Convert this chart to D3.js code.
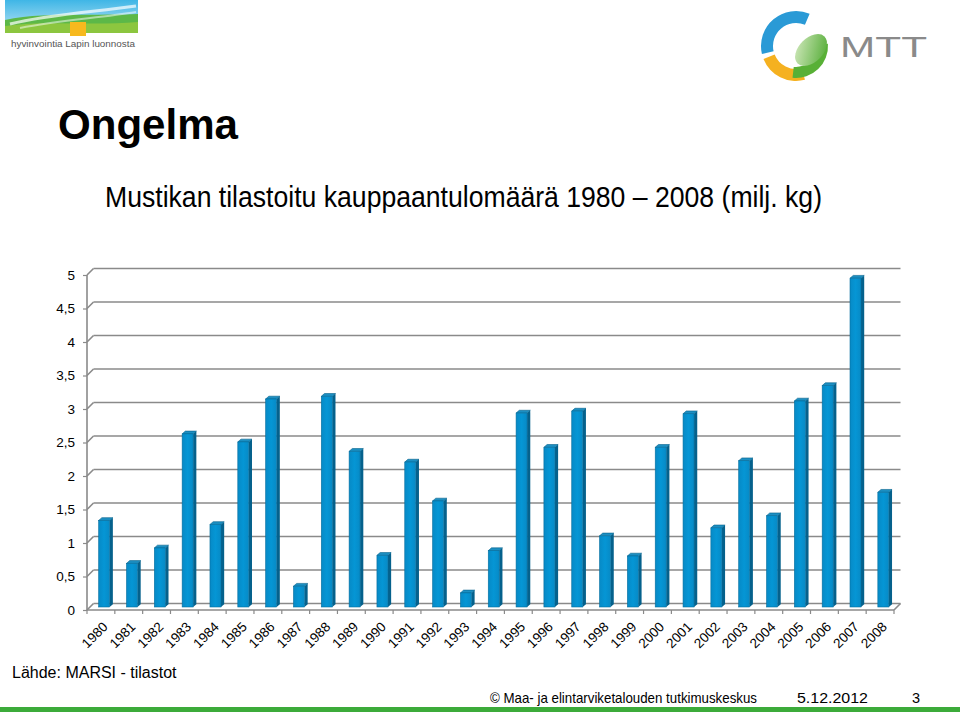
<!DOCTYPE html>
<html><head><meta charset="utf-8">
<script src="https://cdn.jsdelivr.net/npm/d3@7"></script>
<style>body{margin:0;background:#fff}svg{display:block;font-family:Arial,"Liberation Sans",sans-serif}</style>
</head><body>
<svg id="c" width="960" height="712"></svg>
<script>
const years = ["1980","1981","1982","1983","1984","1985","1986","1987","1988","1989","1990","1991","1992","1993","1994","1995","1996","1997","1998","1999","2000","2001","2002","2003","2004","2005","2006","2007","2008"];
const values = [1.29,0.65,0.88,2.58,1.23,2.46,3.10,0.31,3.14,2.32,0.77,2.16,1.58,0.21,0.84,2.89,2.38,2.92,1.06,0.76,2.38,2.88,1.18,2.18,1.36,3.07,3.30,4.90,1.71];
const yTicks = [0,0.5,1,1.5,2,2.5,3,3.5,4,4.5,5];
const title = "Ongelma";
const subtitle = "Mustikan tilastoitu kauppaantulomäärä 1980 – 2008 (milj. kg)";
const source = "Lähde: MARSI - tilastot";
const footer = "© Maa- ja elintarviketalouden tutkimuskeskus";
const footDate = "5.12.2012";
const pageNo = "3";

const svg = d3.select("#c");
const defs = svg.append("defs");

const DX = 6.5, DY = -6.5;
const x0 = 87, x1 = 894;
const yF = d3.scaleLinear().domain([0,5]).range([610,275]);
const yB = v => yF(v) + DY;
const yM = d3.scaleLinear().domain([0,5]).range([607,271.5]);
const xF = d3.scaleBand().domain(years).range([x0, x1]);
const xM = d => xF(d) + xF.bandwidth()/2 + DX/2;

// ---------- logos ----------
const g1 = defs.append("linearGradient").attr("id","sky").attr("x1",0).attr("y1",0).attr("x2",0).attr("y2",1);
g1.append("stop").attr("offset",0).attr("stop-color","#3fb6e6");
g1.append("stop").attr("offset",1).attr("stop-color","#bfe6f5");
const lg = svg.append("g");
lg.append("rect").attr("x",5).attr("y",0).attr("width",133).attr("height",33).attr("fill","url(#sky)");
lg.append("path").attr("d","M5,20 C40,12 80,16 138,14 L138,33 L5,33 Z").attr("fill","#5cb848");
lg.append("path").attr("d","M5,26 C45,20 90,26 138,22 L138,33 L5,33 Z").attr("fill","#8cc63f");
lg.append("path").attr("d","M10,24 C50,14 95,12 136,6").attr("stroke","#ffffff").attr("stroke-opacity",0.7).attr("stroke-width",3).attr("fill","none");
lg.append("path").attr("d","M20,28 C60,20 100,18 136,12").attr("stroke","#ffffff").attr("stroke-opacity",0.5).attr("stroke-width",2).attr("fill","none");
lg.append("rect").attr("x",70).attr("y",22).attr("width",16).attr("height",14).attr("fill","#f7b91e");
lg.append("text").attr("x",11).attr("y",47).attr("font-size",9.5).attr("fill","#555")
  .attr("textLength",124).attr("lengthAdjust","spacingAndGlyphs").text("hyvinvointia Lapin luonnosta");

const mg = svg.append("g");
const arc = d3.arc();
const cx = 796, cy = 46;
mg.append("path").attr("transform",`translate(${cx},${cy})`).attr("fill","#2a9ad6")
  .attr("d",arc({innerRadius:23,outerRadius:35,startAngle:-1.8,endAngle:0.4}));
mg.append("path").attr("transform",`translate(${cx},${cy})`).attr("fill","#f5b120")
  .attr("d",arc({innerRadius:23,outerRadius:35,startAngle:-3.4,endAngle:-1.95}));
mg.append("path").attr("transform",`translate(${cx},${cy})`).attr("fill","#58b036")
  .attr("d",arc({innerRadius:21,outerRadius:32,startAngle:1.5,endAngle:3.25}));
const lf = defs.append("linearGradient").attr("id","leaf").attr("x1",0).attr("y1",0).attr("x2",1).attr("y2",1);
lf.append("stop").attr("offset",0).attr("stop-color","#d8ecc4");
lf.append("stop").attr("offset",1).attr("stop-color","#4da92f");
mg.append("ellipse").attr("cx",811).attr("cy",50).attr("rx",19).attr("ry",12).attr("transform","rotate(-45,811,50)").attr("fill","url(#leaf)");
mg.append("text").attr("x",840).attr("y",57).attr("font-size",30).attr("fill","#8a8a8a").attr("textLength",87).attr("lengthAdjust","spacingAndGlyphs").text("MTT");

// ---------- titles ----------
svg.append("text").attr("x",58).attr("y",139).attr("font-size",42).attr("font-weight","bold").attr("fill","#000")
  .attr("textLength",180).attr("lengthAdjust","spacingAndGlyphs").text(title);
svg.append("text").attr("x",105).attr("y",207).attr("font-size",30).attr("fill","#000")
  .attr("textLength",717).attr("lengthAdjust","spacingAndGlyphs").text(subtitle);

// ---------- chart frame ----------
const grid = svg.append("g").attr("stroke","#8a8a8a").attr("stroke-width",1.6).attr("fill","none");
yTicks.forEach(v => {
  grid.append("line").attr("x1",x0+DX).attr("x2",x1+DX).attr("y1",yB(v)).attr("y2",yB(v));
  grid.append("line").attr("x1",x0).attr("x2",x0+DX).attr("y1",yF(v)).attr("y2",yB(v));
});
grid.append("line").attr("x1",x0).attr("x2",x0).attr("y1",yF(0)).attr("y2",yF(5));
grid.append("line").attr("x1",x0).attr("x2",x1).attr("y1",yF(0)).attr("y2",yF(0));
grid.append("line").attr("x1",x1).attr("x2",x1+DX).attr("y1",yF(0)).attr("y2",yB(0));

const yAxis = d3.axisLeft(yF).tickValues(yTicks).tickSize(4).tickPadding(8)
  .tickFormat(d => String(d).replace(".", ","));
const ya = svg.append("g").attr("transform",`translate(${x0},0)`).call(yAxis);
ya.select(".domain").remove();
ya.selectAll("line").attr("stroke","#8a8a8a").attr("stroke-width",1.2);
ya.selectAll("text").attr("font-size",13.5).attr("fill","#000").attr("font-family","Arial,'Liberation Sans',sans-serif");

const xa = svg.append("g");
years.forEach(d => {
  xa.append("line").attr("x1",xF(d)).attr("x2",xF(d)).attr("y1",yF(0)).attr("y2",yF(0)+4).attr("stroke","#8a8a8a").attr("stroke-width",1.2);
});
xa.append("line").attr("x1",x1).attr("x2",x1).attr("y1",yF(0)).attr("y2",yF(0)+4).attr("stroke","#8a8a8a").attr("stroke-width",1.2);
years.forEach(d => {
  const cxl = xF(d) + xF.bandwidth()/2 + 1;
  xa.append("text").attr("transform",`translate(${cxl},${yF(0)+11}) rotate(-45)`)
    .attr("text-anchor","end").attr("dy","0.7em").attr("font-size",13.5).attr("fill","#000").text(d);
});

// ---------- bars ----------
const fg = defs.append("linearGradient").attr("id","face").attr("x1",0).attr("y1",0).attr("x2",1).attr("y2",0);
fg.append("stop").attr("offset",0).attr("stop-color","#078ac6");
fg.append("stop").attr("offset",0.5).attr("stop-color","#0596d5");
fg.append("stop").attr("offset",1).attr("stop-color","#078ac6");
const bw = 11, sd = 3.2, td = -2.8;
const bars = svg.append("g").selectAll("g").data(years).join("g");
bars.each(function(d,i){
  const g = d3.select(this);
  const l = xM(d) - bw/2, r = l + bw;
  const yt = yM(values[i]), yb = yM(0);
  g.append("path").attr("d",`M${r},${yt} L${r+sd},${yt+td} L${r+sd},${yb+td} L${r},${yb} Z`).attr("fill","#05618c");
  g.append("path").attr("d",`M${l},${yt} L${r},${yt} L${r+sd},${yt+td} L${l+sd},${yt+td} Z`).attr("fill","#1c8fc2").attr("stroke","#05618c").attr("stroke-width",0.6);
  g.append("rect").attr("x",l).attr("y",yt).attr("width",bw).attr("height",yb-yt).attr("fill","url(#face)").attr("stroke","#066f9f").attr("stroke-width",0.6);
});

// ---------- footer ----------
svg.append("text").attr("x",12).attr("y",678).attr("font-size",16).attr("fill","#000").text(source);
svg.append("text").attr("x",490).attr("y",703).attr("font-size",14.5).attr("fill","#000")
  .attr("textLength",267).attr("lengthAdjust","spacingAndGlyphs").text(footer);
svg.append("text").attr("x",797).attr("y",703).attr("font-size",14.5).attr("fill","#000")
  .attr("textLength",71).attr("lengthAdjust","spacingAndGlyphs").text(footDate);
svg.append("text").attr("x",912).attr("y",703).attr("font-size",14.5).attr("fill","#000").text(pageNo);
svg.append("rect").attr("x",0).attr("y",707).attr("width",960).attr("height",5).attr("fill","#3cab3a");
</script>
</body></html>
